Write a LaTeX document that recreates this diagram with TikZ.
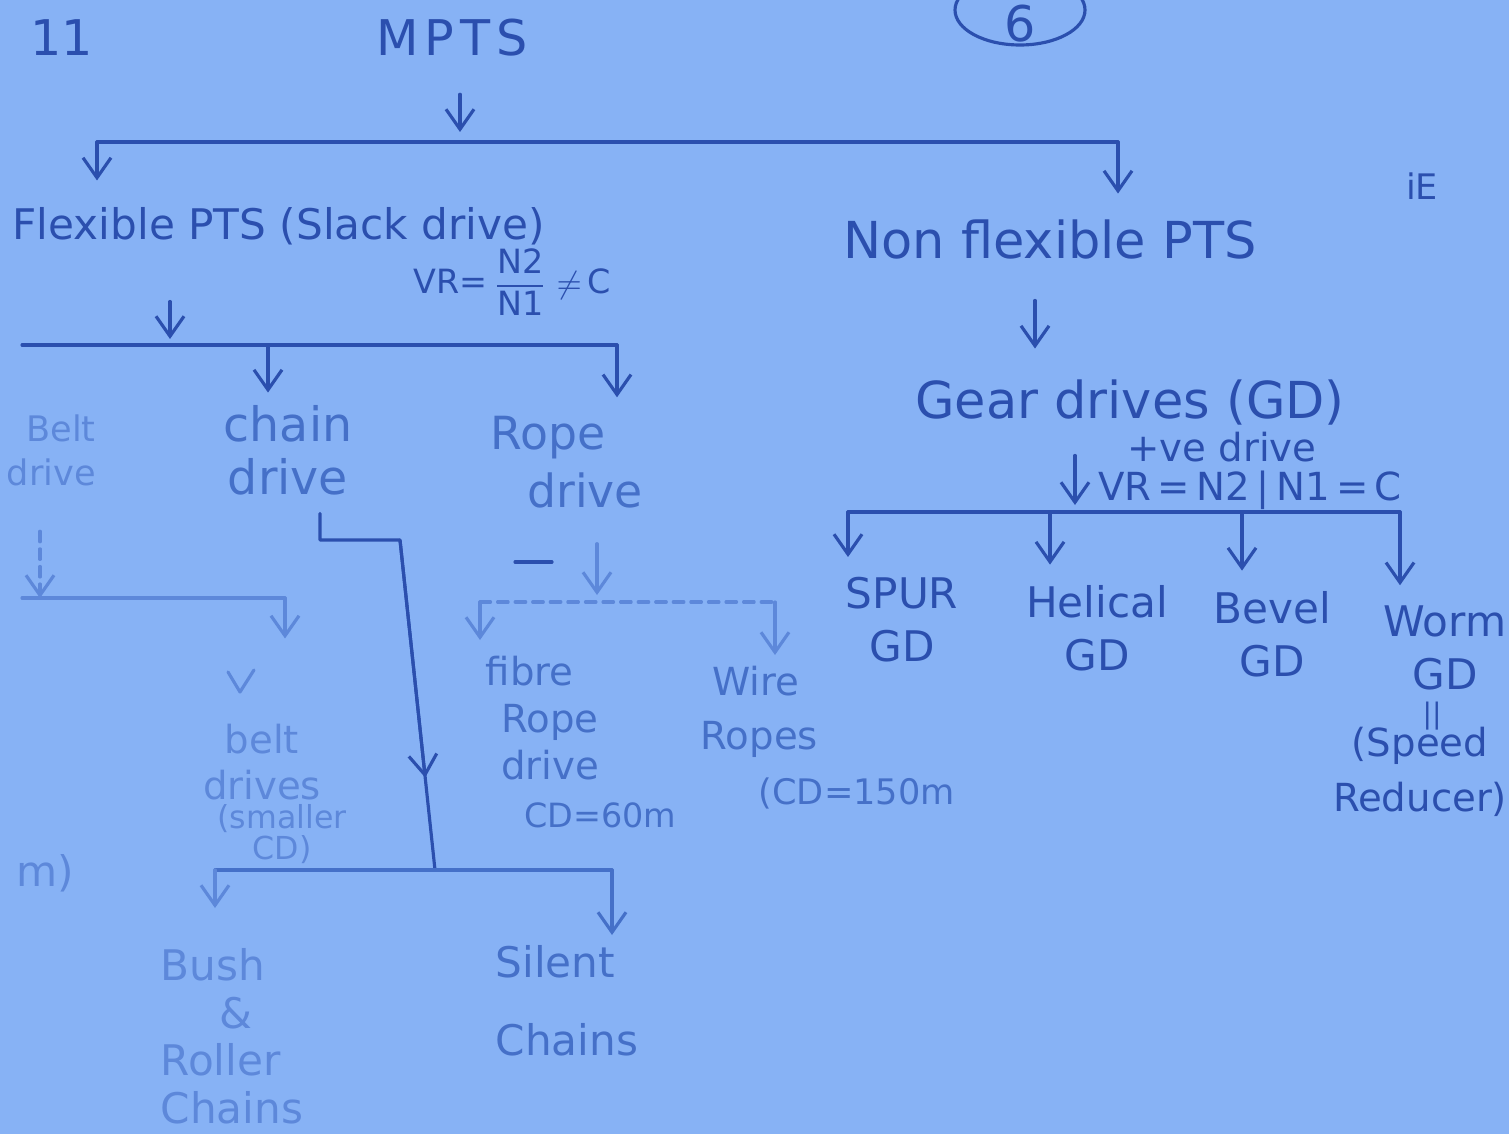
\documentclass[tikz,border=0pt]{standalone}
\usepackage{amsmath}
\usepackage{fontspec}
\setmainfont{DejaVu Sans}
\usetikzlibrary{arrows.meta,calc,positioning}
\definecolor{paper}{HTML}{87B2F5}
\definecolor{ink}{HTML}{2B4FAE}
\definecolor{midink}{HTML}{4570C8}
\definecolor{faint}{HTML}{5D88DA}

\tikzset{
  lbl/.style={text=ink,align=center,inner sep=0pt,font=\fontsize{12}{15}\selectfont},
  mid/.style={lbl,text=midink},
  pale/.style={lbl,text=faint},
  pen/.style={draw=ink,line width=0.9pt,line cap=round,line join=round},
  arr/.style={pen,-{Straight Barb[length=2mm,width=2.8mm]}},
}

\begin{document}
\begin{tikzpicture}[x=0.1mm,y=-0.1mm]
\fill[paper] (0,0) rectangle (1509,1134);
\clip (0,0) rectangle (1509,1134);
\useasboundingbox (0,0) rectangle (1509,1134);

% heading
\node[lbl,font=\fontsize{14}{16}\selectfont] (qno) at (62,38) {11};
\node[lbl,font=\fontsize{14}{16}\selectfont\addfontfeature{LetterSpace=12}] (mpts) at (452,38) {MPTS};
\node[lbl,font=\fontsize{14}{16}\selectfont] (page) at (1020,24) {6};
\draw[pen] ([yshift=1.4mm]page.center) ellipse (6.5mm and 3.5mm);
\node[lbl,font=\fontsize{10}{10}\selectfont] (mark) at (1422,186) {iE};

\coordinate (top) at (460,142);
\coordinate (topL) at (97,142);
\coordinate (topR) at (1118,142);
\draw[pen] (topL) -- (topR);
\draw[arr,shorten <=3.7mm,shorten >=1mm] (mpts.south -| top) -- (top);

% flexible side
\node[lbl,anchor=west,font=\fontsize{12}{13}\selectfont] (flex) at (12,226) {Flexible PTS (Slack drive)};
\node[lbl,font=\fontsize{9.5}{11}\selectfont] (vrflex) at (512,282) {VR=\,$\dfrac{\text{N2}}{\text{N1}}\neq$\,C};
\draw[arr,shorten >=2.6mm] (topL) -- (topL |- flex.north);

\coordinate (flexbar) at (170,345);
\coordinate (flexL) at (22,345);
\coordinate (flexR) at (617,345);
\draw[pen] (flexL) -- (flexR);
\draw[arr,shorten <=5.6mm,shorten >=0.6mm] (flex.south -| flexbar) -- (flexbar);

\node[pale,align=right,anchor=west,font=\fontsize{10}{12.5}\selectfont] (beltdrv) at (6,450) {Belt\\drive};
\node[mid,font=\fontsize{13.5}{15}\selectfont] (chain) at (288,450) {chain\\drive};
\node[mid,align=left,anchor=west,font=\fontsize{13}{16.5}\selectfont] (rope) at (490,462) {Rope\\\hspace{0.8em}drive};
\coordinate (chainD) at (268,345);
\draw[arr,shorten >=1.2mm] (chainD) -- (chainD |- chain.north);
\draw[arr,shorten >=1.8mm] (flexR) -- (flexR |- rope.north);

% belt branch
\coordinate (beltA) at (40,598);
\coordinate (beltL) at (22,598);
\coordinate (beltR) at (285,598);
\draw[pen,draw=faint] (beltL) -- (beltR);
\draw[arr,draw=faint,densely dashed,shorten <=4.5mm] (beltdrv.south -| beltA) -- (beltA);
\node[pale,font=\fontsize{11}{13}\selectfont] (belts) at (262,762) {belt\\drives};
\node[pale,font=\fontsize{9}{7.5}\selectfont] (beltnote) at (282,834) {(smaller\\CD)};
\draw[arr,draw=faint,shorten >=8.5mm] (beltR) -- (beltR |- belts.north);
\draw[pen,draw=faint] (228,672) -- (240,692) -- (254,670);
\node[pale] (cut) at (45,873) {m)};

% chain branch
\coordinate (chainA) at (320,540);
\coordinate (chainB) at (400,540);
\coordinate (chainbar) at (435,870);
\draw[pen,shorten <=1.8mm] (chain.south -| chainA) -- (chainA) -- (chainB) -- (chainbar);
\draw[arr] (chainB) -- ($(chainB)!0.72!(chainbar)$);
\coordinate (chainL) at (215,870);
\coordinate (chainR) at (612,870);
\draw[pen,draw=midink] (chainL) -- (chainR);
\node[pale,align=left,anchor=north west,font=\fontsize{12}{13.5}\selectfont] (bush) at (160,948) {Bush\\\hspace{1.4em}\&\\Roller\\Chains};
\node[mid,align=left,anchor=north west,font=\fontsize{12}{13.5}\selectfont] (silent) at (495,945) {Silent\\[3mm]Chains};
\draw[arr,draw=faint,shorten >=4mm] (chainL) -- (chainL |- bush.north);
\draw[arr,draw=midink,shorten >=1mm] (chainR) -- (chainR |- silent.north);

% rope branch
\coordinate (ropebar) at (597,602);
\coordinate (ropeL) at (480,602);
\coordinate (ropeR) at (775,602);
\draw[pen,draw=faint,densely dashed] (ropeL) -- (ropeR);
\draw[arr,draw=faint,shorten <=3.5mm,shorten >=0.7mm] (rope.south -| ropebar) -- (ropebar);
\draw[pen] (515,562) -- (552,562);
\node[mid,align=left,anchor=north west,font=\fontsize{11}{13.5}\selectfont] (fibre) at (485,655) {fibre\\\hspace{0.4em}Rope\\\hspace{0.4em}drive\\\hspace{1em}{\fontsize{9.5}{9.5}\selectfont CD=60m}};
\node[mid,align=left,anchor=north west,font=\fontsize{11}{15.6}\selectfont] (wirerope) at (700,665) {\hspace{0.3em}Wire\\Ropes\\\hspace{1.5em}{\fontsize{10}{10}\selectfont(CD=150m}};
\draw[arr,draw=faint,shorten >=1.5mm] (ropeL) -- (ropeL |- fibre.north);
\draw[arr,draw=faint,shorten >=1mm] (ropeR) -- (ropeR |- wirerope.north);

% non flexible side
\node[lbl,font=\fontsize{14.5}{15}\selectfont] (nonflex) at (1050,240) {Non flexible PTS};
\draw[arr,shorten >=2.6mm] (topR) -- (topR |- nonflex.north);
\node[lbl,font=\fontsize{14.5}{15}\selectfont] (gear) at (1130,402) {Gear drives (GD)};
\draw[arr,shorten <=4mm,shorten >=3mm] ([xshift=-1.5mm]nonflex.south) -- ([xshift=-1.5mm]nonflex.south |- gear.north);
\node[lbl,font=\fontsize{11}{13}\selectfont] (posdrv) at (1222,447) {+ve drive};
\node[lbl,font=\fontsize{11}{13}\selectfont] (vrgear) at (1250,490) {VR\,=\,N2\,|\,N1\,=\,C};

\coordinate (gearbar) at (1075,512);
\coordinate (gearL) at (848,512);
\coordinate (gearR) at (1400,512);
\draw[pen] (gearL) -- (gearR);
\draw[arr,shorten <=3mm,shorten >=0.7mm] (gear.south -| gearbar) -- (gearbar);

\node[lbl] (spur) at (902,620) {SPUR\\GD};
\node[lbl] (helical) at (1097,628) {Helical\\GD};
\node[lbl] (bevel) at (1272,634) {Bevel\\GD};
\node[lbl] (worm) at (1445,648) {Worm\\GD};
\node[lbl,font=\fontsize{8}{8}\selectfont] (wormeq) at (1432,716) {||};
\node[lbl,font=\fontsize{11}{15.6}\selectfont] (wormnote) at (1420,772) {(Speed\\Reducer)};
\foreach \x/\g in {848/spur,1050/helical,1242/bevel,1400/worm}{
  \coordinate (d\g) at (\x,512);
  \draw[arr,shorten >=2mm] (d\g) -- (d\g |- \g.north);
}
\end{tikzpicture}
\end{document}
